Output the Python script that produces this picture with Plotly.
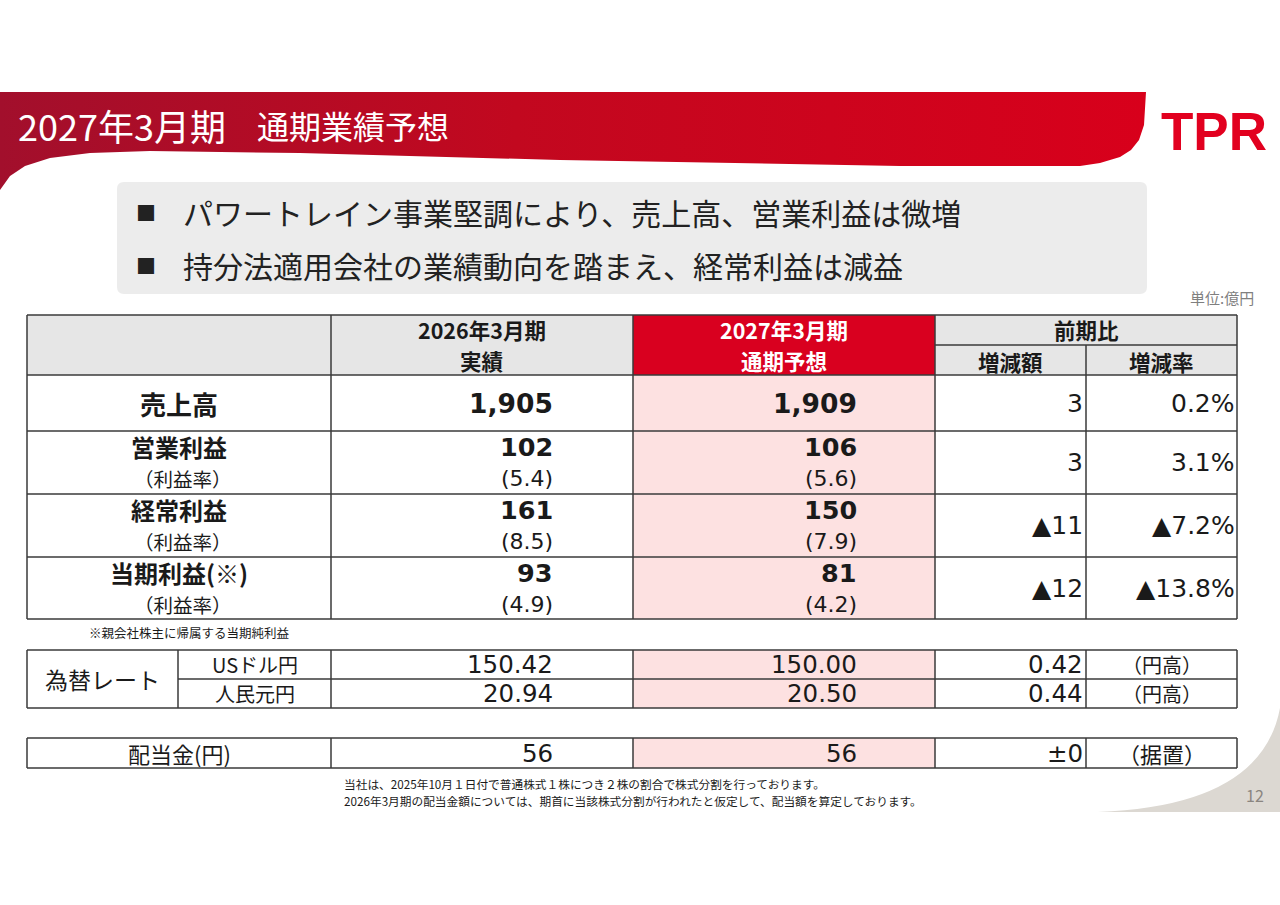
import plotly.graph_objects as go

# ---------------- data ----------------
title_period = "2027年3月期"
title_main = "通期業績予想"
bullets = ["パワートレイン事業堅調により、売上高、営業利益は微増",
           "持分法適用会社の業績動向を踏まえ、経常利益は減益"]
unit_text = "単位:億円"

col_headers_2026 = ["2026年3月期", "実績"]
col_headers_2027 = ["2027年3月期", "通期予想"]
compare_header = "前期比"
compare_sub = ["増減額", "増減率"]

row_labels = ["売上高", "営業利益", "経常利益", "当期利益(※)"]
margin_label = "（利益率）"
fy2026_values = [1905, 102, 161, 93]
fy2026_margin = [None, 5.4, 8.5, 4.9]
fy2027_values = [1909, 106, 150, 81]
fy2027_margin = [None, 5.6, 7.9, 4.2]
diff_values = [3, 3, -11, -12]
diff_rates = [0.2, 3.1, -7.2, -13.8]

note_net = "※親会社株主に帰属する当期純利益"

fx_title = "為替レート"
fx_labels = ["USドル円", "人民元円"]
fx_2026 = [150.42, 20.94]
fx_2027 = [150.00, 20.50]
fx_diff = [0.42, 0.44]
fx_note = ["（円高）", "（円高）"]

div_label = "配当金(円)"
div_2026 = 56
div_2027 = 56
div_diff = 0
div_note = "（据置）"

footnotes = ["当社は、2025年10月１日付で普通株式１株につき２株の割合で株式分割を行っております。",
             "2026年3月期の配当金額については、期首に当該株式分割が行われたと仮定して、配当額を算定しております。"]
page_no = "12"

# ---------------- style / layout constants ----------------
W, H = 1280, 905
FONT = "Noto Sans CJK JP"
NUM = "DejaVu Sans"
TXT = "#1a1a1a"
LINE = "#3a3a3a"
GRAY_HDR = "#e6e6e6"
PINK = "#fde1e1"
RED = "#d9001f"

X = [27, 331, 633, 935, 1086, 1237]
X_FX = 178
HDR_TOP, HDR_MID, HDR_BOT = 315, 345, 375
ROW_Y = [375, 431, 494, 557, 619]
FX_Y = [650, 679, 708]
DIV_Y = [738, 768]

shapes = []
annotations = []


def rect(x0, y0, x1, y1, color):
    shapes.append(dict(type="rect", xref="x", yref="y", x0=x0, y0=y0, x1=x1, y1=y1,
                       fillcolor=color, line=dict(width=0), layer="below"))


def hline(y, x0, x1, w=1.5):
    shapes.append(dict(type="line", xref="x", yref="y", x0=x0, x1=x1, y0=y, y1=y,
                       line=dict(color=LINE, width=w), layer="above"))


def vline(x, y0, y1, w=1.5):
    shapes.append(dict(type="line", xref="x", yref="y", x0=x, x1=x, y0=y0, y1=y1,
                       line=dict(color=LINE, width=w), layer="above"))


def text(x, y, s, size, color=TXT, anchor="center", weight="normal", family=FONT):
    annotations.append(dict(x=x, y=y, xref="x", yref="y", text=s, showarrow=False,
                            xanchor=anchor, yanchor="middle", borderpad=0,
                            font=dict(family=family, size=size, color=color, weight=weight)))


def num(x, y, s, size, weight="normal"):
    text(x, y, s, size, anchor="right", weight=weight, family=NUM)


def fmt_int(v):
    return f"{v:,}"


def fmt_diff(v):
    if v < 0:
        return f"▲{abs(v):,}"
    if v == 0:
        return "±0"
    return f"{v:,}"


def fmt_rate(v):
    return (f"▲{abs(v):.1f}%" if v < 0 else f"{v:.1f}%")


# ---------------- background decorations ----------------
fig = go.Figure()

# red banner with gradient
bx = [0, 1146, 1144, 1139, 1131, 1120, 1100, 1080, 900, 720, 560, 300, 150, 90, 50, 25, 10, 0, 0]
by = [92, 92, 125, 140, 150, 157, 163, 166, 166, 163, 160, 153, 151, 153, 158, 166, 176, 190, 92]
fig.add_trace(go.Scatter(x=bx, y=by, mode="lines", line=dict(width=0), fill="toself",
                         fillgradient=dict(type="horizontal",
                                           colorscale=[[0, "#a20f2c"], [0.45, "#c2081f"], [1, "#d8001b"]]),
                         hoverinfo="skip", showlegend=False))

# page curl at bottom right
shapes.append(dict(type="path", xref="x", yref="y",
                   path="M 1280 708 L 1280 812 L 1098 812 Q 1262 806 1280 708 Z",
                   fillcolor="#dcd8d2", line=dict(width=0), layer="below"))

# bullet gray rounded box
r = 7
bx0, by0, bx1, by1 = 117, 182, 1147, 294
shapes.append(dict(type="path", xref="x", yref="y",
                   path=(f"M {bx0+r} {by0} L {bx1-r} {by0} Q {bx1} {by0} {bx1} {by0+r} "
                         f"L {bx1} {by1-r} Q {bx1} {by1} {bx1-r} {by1} L {bx0+r} {by1} "
                         f"Q {bx0} {by1} {bx0} {by1-r} L {bx0} {by0+r} Q {bx0} {by0} {bx0+r} {by0} Z"),
                   fillcolor="#ececec", line=dict(width=0), layer="below"))

# ---------------- cell fills ----------------
rect(X[0], HDR_TOP, X[2], HDR_BOT, GRAY_HDR)
rect(X[2], HDR_TOP, X[3], HDR_BOT, RED)
rect(X[3], HDR_TOP, X[5], HDR_BOT, GRAY_HDR)
rect(X[2], ROW_Y[0], X[3], ROW_Y[-1], PINK)
rect(X[2], FX_Y[0], X[3], FX_Y[-1], PINK)
rect(X[2], DIV_Y[0], X[3], DIV_Y[-1], PINK)

# ---------------- grid lines ----------------
hline(HDR_TOP, X[0], X[5])
hline(HDR_MID, X[3], X[5])
for y in ROW_Y:
    hline(y, X[0], X[5])
for x in X[:4] + [X[5]]:
    vline(x, HDR_TOP, ROW_Y[-1])
vline(X[4], HDR_MID, ROW_Y[-1])

hline(FX_Y[0], X[0], X[5])
hline(FX_Y[1], X_FX, X[5])
hline(FX_Y[2], X[0], X[5])
for x in [X[0], X_FX] + X[1:]:
    vline(x, FX_Y[0], FX_Y[2])

hline(DIV_Y[0], X[0], X[5])
hline(DIV_Y[1], X[0], X[5])
for x in X:
    vline(x, DIV_Y[0], DIV_Y[1])

# ---------------- texts ----------------
text(17, 125, title_period, 36, color="white", anchor="left")
text(256, 125, title_main, 32, color="white", anchor="left")
annotations.append(dict(x=1214, y=131, xref="x", yref="y", text="TPR", showarrow=False,
                        xanchor="center", yanchor="middle",
                        font=dict(family="Liberation Sans", size=53, color="#e2001f", weight="bold")))

for i, b in enumerate(bullets):
    yy = 212 + i * 53
    text(146, yy, "■", 20, color="#222222")
    text(182, yy, b, 30, color="#222222", anchor="left")

text(1255, 297, unit_text, 15, color="#7f7f7f", anchor="right")

# headers
c1 = (X[1] + X[2]) / 2
c2 = (X[2] + X[3]) / 2
text(c1, 329.5, col_headers_2026[0], 21.5, weight="bold")
text(c1, 360.5, col_headers_2026[1], 21.5, weight="bold")
text(c2, 329.5, col_headers_2027[0], 21.5, color="white", weight="bold")
text(c2, 360.5, col_headers_2027[1], 21.5, color="white", weight="bold")
text((X[3] + X[5]) / 2, 329.5, compare_header, 21.5, weight="bold")
text((X[3] + X[4]) / 2, 361, compare_sub[0], 21.5, weight="bold")
text((X[4] + X[5]) / 2, 361, compare_sub[1], 21.5, weight="bold")

# body rows
lab_c = (X[0] + X[1]) / 2
for i, lab in enumerate(row_labels):
    y0, y1 = ROW_Y[i], ROW_Y[i + 1]
    mid = (y0 + y1) / 2
    if fy2026_margin[i] is None:
        text(lab_c, mid, lab, 26, weight="bold")
        num(X[1] + 223, mid, fmt_int(fy2026_values[i]), 26.5, weight="bold")
        num(X[2] + 225, mid, fmt_int(fy2027_values[i]), 26.5, weight="bold")
    else:
        text(lab_c, y0 + 15.5, lab, 24, weight="bold")
        text(lab_c + 4, y0 + 47, margin_label, 19.5)
        num(X[1] + 223, y0 + 16, fmt_int(fy2026_values[i]), 25.5, weight="bold")
        num(X[1] + 223, y0 + 47, f"({fy2026_margin[i]:.1f})", 22)
        num(X[2] + 225, y0 + 16, fmt_int(fy2027_values[i]), 25.5, weight="bold")
        num(X[2] + 225, y0 + 47, f"({fy2027_margin[i]:.1f})", 22)
    num(X[4] - 2, mid, fmt_diff(diff_values[i]), 25)
    num(X[5] - 1, mid, fmt_rate(diff_rates[i]), 25)

text(88, 632, note_net, 12.5, anchor="left")

# FX table
fx_mid = (FX_Y[0] + FX_Y[2]) / 2
text((X[0] + X_FX) / 2, fx_mid, fx_title, 23)
for i in range(2):
    mid = (FX_Y[i] + FX_Y[i + 1]) / 2
    text((X_FX + X[1]) / 2, mid, fx_labels[i], 20)
    num(X[1] + 223, mid, f"{fx_2026[i]:.2f}", 24.5)
    num(X[2] + 225, mid, f"{fx_2027[i]:.2f}", 24.5)
    num(X[4] - 2, mid, f"{fx_diff[i]:.2f}", 24.5)
    text((X[4] + X[5]) / 2, mid, fx_note[i], 20)

# dividend
mid = (DIV_Y[0] + DIV_Y[1]) / 2
text((X[0] + X[1]) / 2, mid, div_label, 22)
num(X[1] + 223, mid, fmt_int(div_2026), 24.5)
num(X[2] + 225, mid, fmt_int(div_2027), 24.5)
num(X[4] - 2, mid, fmt_diff(div_diff), 24.5)
text((X[4] + X[5]) / 2, mid, div_note, 22)

text(343, 783, footnotes[0], 11.7, anchor="left")
text(343, 800, footnotes[1], 11.7, anchor="left")

text(1255, 795, page_no, 16, color="#8a8580")

fig.update_layout(
    width=W, height=H, margin=dict(l=0, r=0, t=0, b=0),
    paper_bgcolor="white", plot_bgcolor="white",
    xaxis=dict(range=[0, W], visible=False, fixedrange=True),
    yaxis=dict(range=[H, 0], visible=False, fixedrange=True),
    shapes=shapes, annotations=annotations, showlegend=False,
    font=dict(family=FONT),
)

fig.write_html("out.html", config={"displayModeBar": False},
               post_script="document.body.style.margin='0';document.body.style.overflow='hidden';")
